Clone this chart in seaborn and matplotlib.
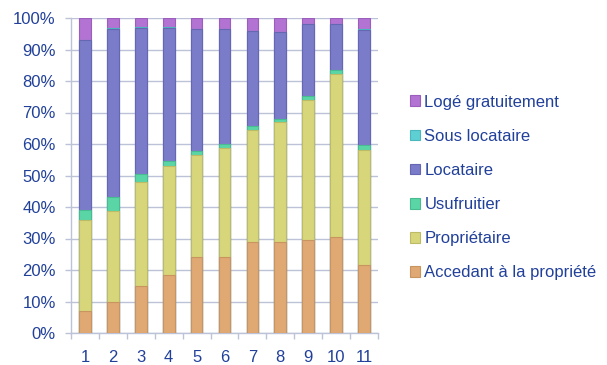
import matplotlib
matplotlib.use("Agg")
import matplotlib.pyplot as plt
from matplotlib.patches import Patch
import seaborn as sns
import pandas as pd
import numpy as np

categories = ["1", "2", "3", "4", "5", "6", "7", "8", "9", "10", "11"]

accedant = [6.9, 9.7, 14.8, 18.5, 24.0, 24.0, 29.0, 29.0, 29.4, 30.5, 21.6]
proprietaire = [29.1, 28.9, 33.1, 34.4, 32.4, 34.7, 35.6, 37.9, 44.5, 51.8, 36.4]
usufruitier = [3.2, 4.6, 2.7, 1.6, 1.3, 1.4, 1.0, 1.0, 1.4, 1.1, 1.6]
locataire = [53.7, 53.3, 46.2, 42.3, 38.8, 36.4, 30.2, 27.5, 22.8, 14.6, 36.7]
sous_locataire = [0.0, 0.3, 0.3, 0.2, 0.1, 0.1, 0.2, 0.3, 0.1, 0.1, 0.2]
loge = [7.1, 3.2, 2.9, 3.0, 3.4, 3.5, 4.0, 4.3, 1.8, 1.9, 3.5]

series_names = ["Accedant à la propriété", "Propriétaire", "Usufruitier",
                "Locataire", "Sous locataire", "Logé gratuitement"]
series_values = [accedant, proprietaire, usufruitier, locataire, sous_locataire, loge]
fills = ["#E0A872", "#D8D67A", "#5AD6A6", "#7B7CC9", "#5ECFD3", "#B373D3"]
edges = ["#C89460", "#BDBB66", "#48BC90", "#6667B2", "#4AB8BC", "#9C5EBC"]

text_color = "#21409A"
grid_color = "#BCC2D8"
font_size = 12

sns.set_theme(style="white")
plt.rcParams["font.family"] = ["Liberation Sans", "DejaVu Sans"]

# normalise each bar to 100 % and build the cumulative tops
vals = np.array(series_values, dtype=float)
vals = vals / vals.sum(axis=0) * 100
cum = np.cumsum(vals, axis=0)

df = pd.DataFrame({"cat": categories})
for name, c in zip(series_names, cum):
    df[name] = c

fig = plt.figure(figsize=(6.07, 3.65), dpi=100)
ax = fig.add_axes([71 / 607, 1 - 333 / 365, (378 - 71) / 607, (333 - 18) / 365])

# draw from the top layer down so each lower layer covers the one above it
for name, fc, ec in reversed(list(zip(series_names, fills, edges))):
    sns.barplot(data=df, x="cat", y=name, color=fc, ax=ax, width=0.42,
                saturation=1, edgecolor=ec, linewidth=0.8, zorder=3)

ax.set_ylim(0, 100)
ax.set_xlim(-0.5, len(categories) - 0.5)
ax.set_yticks(np.arange(0, 101, 10))
ax.set_yticklabels([f"{v}%" for v in range(0, 101, 10)])
ax.set_xlabel("")
ax.set_ylabel("")

ax.yaxis.grid(True, color=grid_color, linewidth=1.0, zorder=0)
ax.set_axisbelow(True)
for s in ["top", "right"]:
    ax.spines[s].set_visible(False)
for s in ["left", "bottom"]:
    ax.spines[s].set_color(grid_color)
    ax.spines[s].set_linewidth(1.0)

ax.tick_params(axis="y", which="both", left=True, length=4, width=1,
               color=grid_color, labelsize=font_size, labelcolor=text_color, pad=7)
# category separators as x tick marks
ax.set_xticks(np.arange(len(categories)))
ax.set_xticklabels(categories)
ax.tick_params(axis="x", which="major", bottom=False, labelsize=font_size,
               labelcolor=text_color, pad=6)
ax.set_xticks(np.arange(-0.5, len(categories) + 0.5, 1), minor=True)
ax.tick_params(axis="x", which="minor", bottom=True, length=4, width=1,
               color=grid_color)

handles = [Patch(facecolor=fc, edgecolor=ec, linewidth=0.8)
           for fc, ec in zip(fills, edges)][::-1]
labels = series_names[::-1]
leg = fig.legend(handles, labels, loc="center left",
                 bbox_to_anchor=(402 / 607, 1 - 187.5 / 365), frameon=False,
                 fontsize=font_size, labelspacing=1.15, handlelength=0.6,
                 handleheight=0.6, handletextpad=0.25, borderpad=0)
for t in leg.get_texts():
    t.set_color(text_color)

fig.savefig("out.png", dpi=100)
